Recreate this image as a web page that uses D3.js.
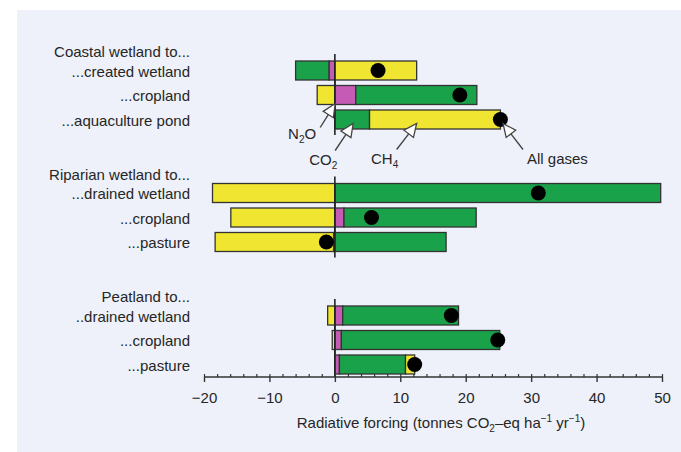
<!DOCTYPE html>
<html>
<head>
<meta charset="utf-8">
<script src="https://cdn.jsdelivr.net/npm/d3@7"></script>
<style>
  body { margin: 0; background: #fff; }
  text { font-family: "Liberation Sans", Arial, sans-serif; fill: #262626; }
</style>
</head>
<body>
<div id="chart"></div>
<script>
// Chart data (tonnes CO2-eq per ha per yr)
var groupLabels = ["Coastal wetland to...", "Riparian wetland to...", "Peatland to..."];
var rowLabels = ["...created wetland", "...cropland", "...aquaculture pond",
  "...drained wetland", "...cropland", "...pasture",
  "..drained wetland", "...cropland", "...pasture"];
var rowGroup = [0, 0, 0, 1, 1, 1, 2, 2, 2];
var co2 = [-5.1, 18.5, 5.3, 49.8, 20.2, 17.0, 17.7, 24.2, 10.1];
var ch4 = [12.5, -2.7, 20.0, -18.7, -15.9, -18.1, -1.1, -0.4, 1.4];
var n2o = [-0.9, 3.2, 0, 0, 1.4, -0.2, 1.2, 1.0, 0.7];
var net = [6.6, 19.1, 25.3, 31.1, 5.6, -1.3, 17.8, 24.9, 12.2];
var xTicks = [-20, -10, 0, 10, 20, 30, 40, 50];

// gas labels pointing at the coastal bars
var gasNotes = [
  { name: "N", sub: "2", after: "O", row: 1, value: 0.05, edge: "bottom", dx: -15, dy: 24 },
  { name: "CO", sub: "2", after: "", row: 2, value: 2.8, edge: "inside", dx: -18, dy: 27 },
  { name: "CH", sub: "4", after: "", row: 2, value: 12.5, edge: "inside", dx: -20, dy: 26 },
  { name: "All gases", sub: "", after: "", row: 2, value: 25.7, edge: "inside", dx: 20, dy: 26 }
];

var svgWidth = 681;
var svgHeight = 452;
var barHeight = 19;

var colors = { n2o: "#c65bb6", co2: "#1aa24b", ch4: "#f0e531" };

var svg = d3.select("#chart")
  .append("svg")
  .attr("width", svgWidth)
  .attr("height", svgHeight);

// light panel behind the chart
svg.append("rect")
  .attr("x", 17)
  .attr("y", 10)
  .attr("width", svgWidth - 17)
  .attr("height", svgHeight - 10)
  .attr("fill", "#eef1f9");

var x = d3.scaleLinear().domain([-20, 50]).range([204, 662]);

// one slot per line: group header + three rows, plus a spacer between groups
var slotOf = function(i) { return rowGroup[i] * 5 + 1 + (i % 3); };
var y = d3.scalePoint().domain(d3.range(14)).range([46, 364.5]);

// group headers
svg.selectAll(".group-label")
  .data(groupLabels)
  .enter()
  .append("text")
  .attr("class", "group-label")
  .attr("x", 190)
  .attr("y", (d, g) => y(g * 5) + 11)
  .attr("text-anchor", "end")
  .style("font-size", "15px")
  .text(d => d);

// row labels
svg.selectAll(".row-label")
  .data(rowLabels)
  .enter()
  .append("text")
  .attr("class", "row-label")
  .attr("x", 190)
  .attr("y", (d, i) => y(slotOf(i)) + 6)
  .attr("text-anchor", "end")
  .style("font-size", "15px")
  .text(d => d);

// zero line, one piece per group
[0, 1, 2].forEach(function(g) {
  var top = y(g * 5 + 1) - barHeight / 2 - 7;
  var bottom = g === 2 ? 377 : y(g * 5 + 3) + barHeight / 2 + 6;
  svg.append("line")
    .attr("x1", x(0)).attr("x2", x(0))
    .attr("y1", top).attr("y2", bottom)
    .attr("stroke", "#222")
    .attr("stroke-width", 1.6);
});

// stack segments outward from zero: N2O, then CO2, then CH4
var segments = [];
rowLabels.forEach(function(label, i) {
  var pos = 0, neg = 0;
  [["n2o", n2o[i]], ["co2", co2[i]], ["ch4", ch4[i]]].forEach(function(p) {
    var v = p[1];
    if (v === 0) return;
    if (v > 0) {
      segments.push({ row: i, gas: p[0], x0: pos, x1: pos + v });
      pos += v;
    } else {
      segments.push({ row: i, gas: p[0], x0: neg + v, x1: neg });
      neg += v;
    }
  });
});

svg.selectAll(".seg")
  .data(segments)
  .enter()
  .append("rect")
  .attr("class", "seg")
  .attr("x", d => x(d.x0))
  .attr("width", d => x(d.x1) - x(d.x0))
  .attr("y", d => y(slotOf(d.row)) - barHeight / 2)
  .attr("height", barHeight)
  .attr("fill", d => colors[d.gas])
  .attr("stroke", "#333")
  .attr("stroke-width", 1.3);

// redraw zero line over bars
[0, 1, 2].forEach(function(g) {
  svg.append("line")
    .attr("x1", x(0)).attr("x2", x(0))
    .attr("y1", y(g * 5 + 1) - barHeight / 2)
    .attr("y2", y(g * 5 + 3) + barHeight / 2)
    .attr("stroke", "#222")
    .attr("stroke-width", 1.6);
});

// net effect dots
svg.selectAll(".net")
  .data(net)
  .enter()
  .append("circle")
  .attr("class", "net")
  .attr("cx", d => x(d))
  .attr("cy", (d, i) => y(slotOf(i)))
  .attr("r", 7.5)
  .attr("fill", "#000");

// annotation arrows with hollow heads
gasNotes.forEach(function(n) {
  var tx = x(n.value);
  var ty = n.edge === "bottom" ? y(slotOf(n.row)) + barHeight / 2 - 1 : y(slotOf(n.row)) + 4;
  var sx = tx + n.dx, sy = ty + n.dy;
  var len = Math.sqrt(n.dx * n.dx + n.dy * n.dy);
  var ux = -n.dx / len, uy = -n.dy / len;   // unit vector toward tip
  var head = 13, half = 6;
  var bx = tx - ux * head, by = ty - uy * head;
  svg.append("line")
    .attr("x1", sx).attr("y1", sy)
    .attr("x2", bx).attr("y2", by)
    .attr("stroke", "#444")
    .attr("stroke-width", 1.4);
  svg.append("polygon")
    .attr("points", [[tx, ty], [bx - uy * half, by + ux * half], [bx + uy * half, by - ux * half]]
      .map(p => p.join(",")).join(" "))
    .attr("fill", "#fff")
    .attr("stroke", "#444")
    .attr("stroke-width", 1.3);

  var label = svg.append("text")
    .style("font-size", "15px");
  if (n.name === "N") {
    label.attr("x", sx - 4).attr("y", sy + 11).attr("text-anchor", "end");
  } else if (n.dx < 0) {
    label.attr("x", sx - 12).attr("y", sy + 14).attr("text-anchor", "middle");
  } else {
    label.attr("x", sx + 4).attr("y", sy + 14).attr("text-anchor", "start");
  }
  label.append("tspan").text(n.name);
  if (n.sub) {
    label.append("tspan").attr("dy", 4).style("font-size", "10px").text(n.sub);
    if (n.after) label.append("tspan").attr("dy", -4).text(n.after);
  }
});

// x axis: minor ticks upward, major ticks downward with labels
var minorAxis = d3.axisBottom(x)
  .tickValues(d3.range(-20, 51, 2))
  .tickSize(-3)
  .tickFormat("");
svg.append("g")
  .attr("transform", "translate(0, 377)")
  .call(minorAxis)
  .call(g => g.select(".domain").remove())
  .selectAll("line").attr("stroke", "#333").attr("stroke-width", 1.2);

var majorAxis = d3.axisBottom(x)
  .tickValues(xTicks)
  .tickSize(5)
  .tickPadding(10)
  .tickFormat(d => d < 0 ? "\u2212" + Math.abs(d) : d);
var xAxis = svg.append("g")
  .attr("transform", "translate(0, 377)")
  .call(majorAxis);
xAxis.select(".domain").attr("d", "M" + x(-20) + ",0H" + x(50)).attr("stroke", "#333").attr("stroke-width", 1.6);
xAxis.selectAll("line").attr("stroke", "#333").attr("stroke-width", 1.4);
xAxis.selectAll("text")
  .style("font-size", "15px")
  .style("font-family", "'Liberation Sans', Arial, sans-serif")
  .attr("fill", "#262626");

// axis title
var title = svg.append("text")
  .attr("x", (x(-20) + x(50)) / 2 + 8)
  .attr("y", 428)
  .attr("text-anchor", "middle")
  .style("font-size", "15px");
title.append("tspan").text("Radiative forcing (tonnes CO");
title.append("tspan").attr("dy", 4).style("font-size", "10px").text("2");
title.append("tspan").attr("dy", -4).text("\u2013eq ha");
title.append("tspan").attr("dy", -6).style("font-size", "10px").text("\u22121");
title.append("tspan").attr("dy", 6).text(" yr");
title.append("tspan").attr("dy", -6).style("font-size", "10px").text("\u22121");
title.append("tspan").attr("dy", 6).text(")");
</script>
</body>
</html>
